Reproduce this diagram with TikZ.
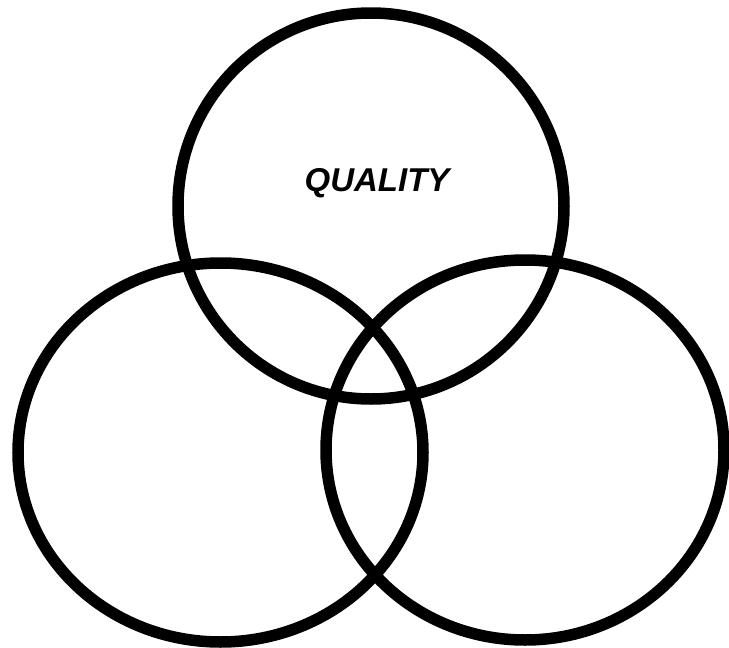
\documentclass[tikz,border=0pt]{standalone}
\usepackage{fontspec}
\setmainfont{Liberation Sans}
\begin{document}
\begin{tikzpicture}[x=1pt,y=-1pt,
  ring/.style={draw=black,line width=11.5pt},
  label/.style={font=\fontsize{33}{36}\selectfont\bfseries\itshape}]
\useasboundingbox (0,0) rectangle (729,648);
\draw[ring] (371,206) ellipse [x radius=193, y radius=193];
\draw[ring] (220.5,452.5) ellipse [x radius=202.5, y radius=189.5];
\draw[ring] (525,450) ellipse [x radius=199, y radius=190];
\node[label] (q) at (377,183) {QUALITY};
\end{tikzpicture}
\end{document}
